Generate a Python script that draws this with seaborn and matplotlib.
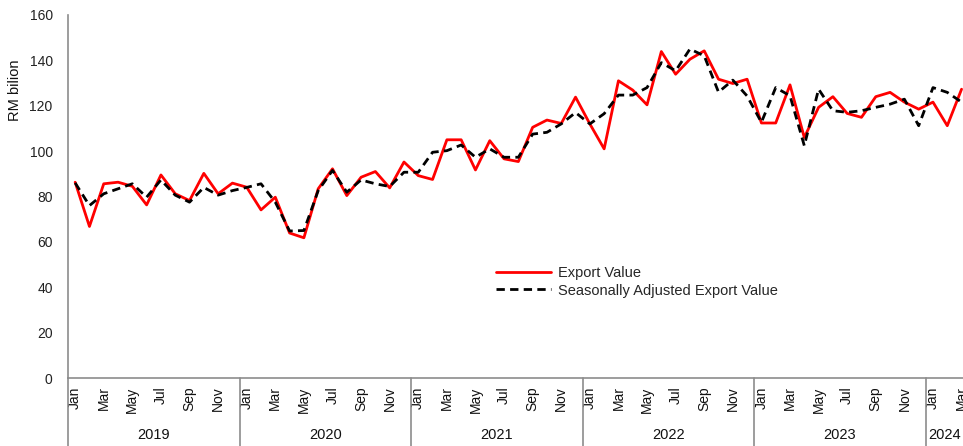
import numpy as np
import pandas as pd
import matplotlib
matplotlib.use("Agg")
import matplotlib.pyplot as plt
import seaborn as sns

# ---- data ----
years = ["2019", "2020", "2021", "2022", "2023", "2024"]
month_names = ["Jan", "Feb", "Mar", "Apr", "May", "Jun",
               "Jul", "Aug", "Sep", "Oct", "Nov", "Dec"]

export_value = [
    86.3, 66.8, 85.6, 86.3, 84.5, 76.3, 89.5, 81.2, 78.2, 90.2, 81.2, 85.9,
    84.1, 74.1, 79.7, 63.9, 61.8, 83.4, 92.2, 80.4, 88.5, 91.0, 83.8, 95.2,
    89.2, 87.5, 105.0, 105.0, 91.7, 104.6, 96.6, 95.4, 110.5, 113.7, 112.2, 123.8,
    112.0, 101.0, 131.0, 126.9, 120.4, 143.9, 133.9, 140.5, 144.2, 131.7, 129.8, 131.7,
    112.4, 112.4, 129.2, 106.0, 119.3, 124.0, 116.6, 114.9, 124.0, 125.9, 121.6, 118.5,
    121.6, 111.2, 127.3,
]
sa_export_value = [
    86.0, 76.0, 81.2, 83.4, 85.6, 79.7, 87.3, 80.6, 77.5, 84.0, 80.6, 82.6,
    84.0, 85.6, 77.5, 64.8, 65.0, 82.6, 91.5, 81.9, 87.3, 85.6, 84.4, 90.7,
    90.7, 99.5, 100.2, 102.7, 97.3, 101.0, 97.3, 97.3, 107.5, 108.3, 112.0, 117.0,
    112.0, 116.5, 124.7, 124.7, 128.0, 139.0, 135.4, 145.0, 142.0, 126.0, 131.3, 124.3,
    112.7, 128.0, 124.4, 102.4, 127.3, 117.8, 117.1, 117.8, 119.3, 120.7, 122.9, 111.2,
    128.0, 125.9, 121.6,
]

n = len(export_value)
idx = np.arange(n)
df = pd.DataFrame({"idx": idx, "Export Value": export_value,
                   "Seasonally Adjusted Export Value": sa_export_value})

sns.set_theme(style="white")
plt.rcParams["font.family"] = ["Liberation Sans", "DejaVu Sans"]

fig = plt.figure(figsize=(9.63, 4.46), dpi=100)
ax = fig.add_axes([68 / 963, 1 - 378 / 446, 1 - 68 / 963, (378 - 15) / 446])

sns.lineplot(data=df, x="idx", y="Export Value", ax=ax, color="#FF0000",
             linewidth=2.0, label="Export Value")
sns.lineplot(data=df, x="idx", y="Seasonally Adjusted Export Value", ax=ax,
             color="black", linewidth=2.0, linestyle=(0, (3.0, 1.9)),
             label="Seasonally Adjusted Export Value")

ax.set_xlim(-0.5, 62.1)
ax.set_ylim(0, 160)
ax.set_yticks(np.arange(0, 161, 20))
ax.tick_params(axis="y", length=0, pad=11, labelsize=10, labelcolor="#222222")

# month ticks (every other month)
tick_pos = [i for i in idx if i % 2 == 0]
tick_lab = [month_names[i % 12] for i in tick_pos]
ax.set_xticks(tick_pos)
ax.set_xticklabels(tick_lab, rotation=90, va="top", ha="center")
ax.tick_params(axis="x", length=0, pad=6, labelsize=10, labelcolor="#111111")
ax.set_xlabel("")

ax.set_ylabel("RM bilion", fontsize=10.5, color="#111111")
ax.yaxis.set_label_coords(-0.051, 0.792)

for s in ["top", "right"]:
    ax.spines[s].set_visible(False)
for s in ["left", "bottom"]:
    ax.spines[s].set_color("#8c8c8c")
    ax.spines[s].set_linewidth(1.2)

# year group separators and labels
trans = ax.get_xaxis_transform()
for k, yr in enumerate(years):
    start = 12 * k - 0.5
    ax.plot([start, start], [0, -0.19], transform=trans, color="#8c8c8c",
            linewidth=1.2, clip_on=False)
    end = min(12 * k + 11.5, 62.1)
    ax.text((start + end) / 2, -0.157, yr, transform=trans, ha="center",
            va="center", fontsize=10.5, color="#111111")

leg = ax.legend(loc="upper left", bbox_to_anchor=(0.470, 0.329), frameon=False,
                borderpad=0, handlelength=3.8, handletextpad=0.48,
                labelspacing=0.25, fontsize=10.5)

fig.savefig("out.png", dpi=100)
